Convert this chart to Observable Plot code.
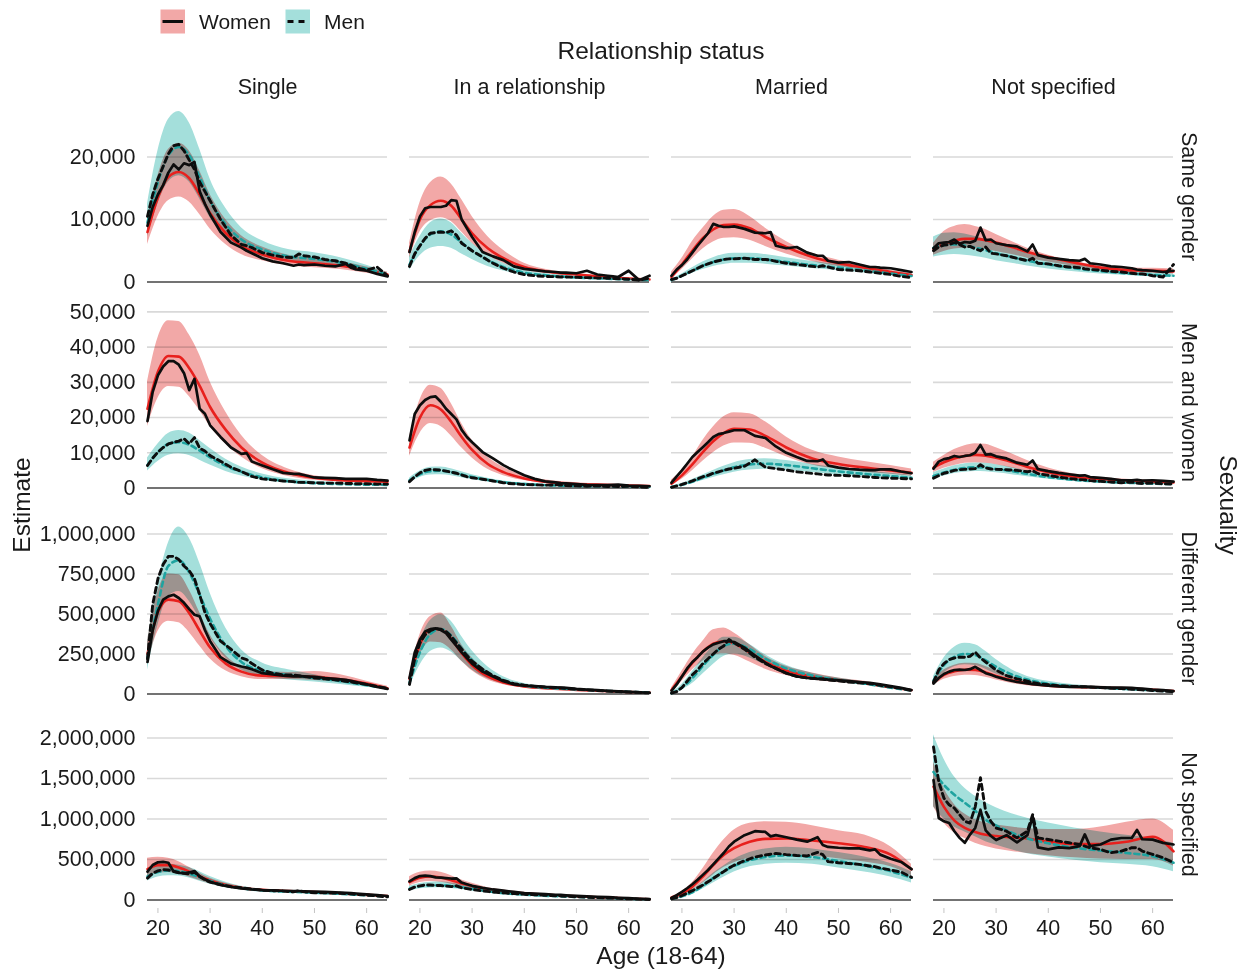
<!DOCTYPE html>
<html><head><meta charset="utf-8">
<script src="https://cdn.jsdelivr.net/npm/d3@7"></script>
<script src="https://cdn.jsdelivr.net/npm/@observablehq/plot@0.6"></script>
<style>
html,body{margin:0;padding:0;background:#fff;}
#chart{position:relative;width:1252px;height:971px;overflow:hidden;font-family:"Liberation Sans",Arial,Helvetica,sans-serif;color:#1a1a1a;background:#fff;}
.row{position:absolute;left:0;}
.row svg{overflow:visible;}
#overlay{position:absolute;left:0;top:0;pointer-events:none;}
</style></head><body><div id="chart"></div>
<script>
// ---------- data (values in thousands) ----------
const statuses = ["Single", "In a relationship", "Married", "Not specified"];
const sexualities = ["Same gender", "Men and women", "Different gender", "Not specified"];
const modelAges = [18,20,22,24,26,28,30,33,36,40,45,50,55,60,64];
const obsAges = [18,19,20,21,22,23,24,25,26,27,28,29,30,32,34,36,37,38,40,42,44,46,47,48,50,52,54,56,57,58,60,62,64];
const ageTicks = [20,30,40,50,60];
const yTicks = [[0,10,20],[0,10,20,30,40,50],[0,250,500,750,1000],[0,500,1000,1500,2000]];

// model interval for women: [sexuality][status][age]
const womenHi = [
 [[10.3,17,21.2,22.2,21,17.8,14,10,7.4,5.6,4.3,3.8,3.3,2.4,1.6],
  [6.2,12.7,15.9,16.8,15.7,13.2,10.5,7.3,5.1,3.0,1.9,1.35,1.0,0.65,0.5],
  [1.6,3.8,6.5,8.6,10.5,11.5,11.6,10.5,8.6,6.5,4.6,3.5,2.7,1.9,1.35],
  [6.2,8.1,8.9,9.2,8.9,8.4,7.6,6.5,5.4,4.3,3.3,2.6,2.3,2.2,2.1]],
 [[30.2,42.6,47.5,47.3,43.5,37.8,30.2,21.6,15,9.2,5.4,3.5,2.6,2.3,2.1],
  [14.5,25,29.2,28.3,24,18.3,13.5,8.8,5.9,3.5,2.1,1.5,1.15,0.85,0.7],
  [2.3,5.0,8.8,13.5,17.3,20.2,21.4,21.1,18.8,14.5,10.7,8.8,7.5,6.4,5.4],
  [7.3,9.2,10.9,12.0,12.6,12.4,11.4,9.7,7.8,5.7,4.0,3.0,2.5,2.1,1.8]],
 [[330,640,750,745,650,510,370,240,170,140,135,140,120,80,48],
  [121,371,485,506,423,308,225,142,90,58,42,31,23,17,12],
  [37,142,246,329,402,412,381,308,235,173,131,100,79,48,27],
  [90,150,180,192,190,172,145,110,85,66,54,48,42,32,24]],
 [[514,527,514,473,403,329,267,206,165,132,115,99,82,62,49],
  [288,342,358,342,300,247,206,152,123,95,70,53,37,21,12],
  [41,105,215,385,576,741,864,946,967,959,918,856,802,658,440],
  [1700,1380,1180,1060,990,950,925,900,880,870,870,900,960,1000,860]]
];
const womenMid = [
 [[8.0,13.5,16.8,17.6,16.6,14.0,11.0,7.8,5.8,4.4,3.4,3.0,2.6,1.9,1.2],
  [4.9,10,12.3,13,12.2,10,7.8,5.4,3.8,2.4,1.6,1.2,0.85,0.55,0.4],
  [0.8,2.8,5.0,7.0,8.4,9.1,9.2,8.6,7.2,5.6,4.0,3.0,2.3,1.6,1.1],
  [5.3,6.1,6.6,6.9,6.9,6.7,6.3,5.6,4.8,4.0,3.1,2.3,1.9,1.8,1.7]],
 [[22.5,33,37.5,37.3,34,29,23,16.5,11.5,7.2,4.3,2.9,2.2,1.9,1.8],
  [11.5,20,23.5,22.3,18.8,14.5,10.8,6.8,4.5,2.7,1.6,1.15,0.9,0.7,0.55],
  [1.2,3.6,6.7,10.2,13.3,15.6,16.8,16.6,14.8,11.5,8.4,6.8,5.8,5.0,4.3],
  [5.8,7.3,8.4,9.1,9.4,9.2,8.6,7.4,6.0,4.5,3.2,2.5,2.1,1.8,1.6]],
 [[250,510,590,580,505,395,290,190,140,115,112,108,92,66,36],
  [95,310,405,405,345,255,180,110,72,47,34,26,19,13,9],
  [25,110,195,265,315,330,315,260,200,145,110,88,68,42,24],
  [72,120,142,152,150,135,113,86,67,52,44,39,34,26,19]],
 [[380,430,430,400,350,290,240,185,150,125,110,97,82,63,50],
  [220,275,290,278,245,205,172,128,103,80,60,45,31,18,10],
  [30,80,165,290,430,555,640,720,755,760,735,700,655,560,380],
  [1400,1150,980,890,840,805,790,775,760,720,690,690,720,780,600]]
];
const womenLo = [
 [[6.0,10.5,13.0,13.6,12.8,10.8,8.5,6.0,4.4,3.4,2.6,2.3,2.0,1.4,0.9],
  [3.8,8.0,9.8,10.3,9.7,8.0,6.2,4.3,3.0,1.9,1.3,0.95,0.68,0.44,0.32],
  [0.5,2.0,3.7,5.3,6.4,7.0,7.1,6.7,5.7,4.5,3.3,2.5,1.9,1.35,0.95],
  [4.3,4.9,5.3,5.4,5.4,5.2,4.9,4.4,3.8,3.2,2.5,1.9,1.55,1.4,1.3]],
 [[17.5,25.5,28.8,28.6,26,22,17.5,12.5,8.8,5.5,3.3,2.2,1.7,1.5,1.4],
  [9.0,15.5,18.3,17.5,14.8,11.4,8.5,5.3,3.5,2.1,1.25,0.9,0.7,0.55,0.42],
  [0.7,2.5,4.9,7.6,10.0,11.9,12.8,12.7,11.3,8.9,6.5,5.3,4.5,3.9,3.4],
  [4.4,5.6,6.4,7.0,7.2,7.0,6.6,5.7,4.6,3.5,2.5,1.95,1.65,1.4,1.25]],
 [[190,390,455,445,385,300,220,145,108,90,90,85,72,50,28],
  [75,245,325,320,275,205,145,88,58,38,27,21,15,10,7],
  [15,80,150,205,240,252,242,200,155,115,88,70,54,34,19],
  [55,92,110,118,116,104,87,66,52,41,35,31,27,21,15]],
 [[290,330,340,320,285,240,200,155,127,105,93,82,70,54,42],
  [170,215,228,218,195,165,140,105,85,67,50,38,26,15,8],
  [20,58,120,210,310,400,460,515,540,550,540,510,470,410,300],
  [1150,950,830,760,700,660,630,600,575,545,520,505,500,500,420]]
];
// model interval for men
const menHi = [
 [[12.5,21,26,27.3,25.5,21.3,16.5,11.8,8.7,6.6,5.2,4.7,3.9,2.7,1.5],
  [4.1,7.3,9.5,10.1,9.5,7.8,6.2,4.3,3.0,1.9,1.25,0.9,0.7,0.5,0.38],
  [0.4,1.3,2.3,3.2,3.9,4.4,4.6,4.6,4.4,3.9,3.3,2.8,2.3,1.7,1.2],
  [7.2,7.8,7.9,7.7,7.3,6.8,6.2,5.4,4.6,3.8,2.9,2.3,1.8,1.5,1.3]],
 [[8.5,12.5,15.5,16.3,15.6,13.5,11.2,8.2,6.0,4.0,2.6,1.9,1.5,1.3,1.2],
  [2.8,4.8,5.9,6.0,5.5,4.6,3.8,2.8,2.0,1.4,0.95,0.75,0.6,0.5,0.42],
  [0.6,1.3,2.4,3.7,5.0,6.2,7.2,8.1,8.3,7.8,6.7,5.7,4.9,4.2,3.6],
  [4.3,5.4,6.3,6.9,7.1,7.0,6.6,5.8,4.9,3.8,2.8,2.2,1.8,1.5,1.3]],
 [[330,694,944,1044,975,819,631,412,277,194,152,121,90,58,38],
  [100,330,460,495,455,360,270,170,108,66,46,34,25,18,13],
  [10,60,140,225,300,355,355,310,245,180,130,100,75,45,25],
  [110,225,292,317,308,267,215,152,110,79,58,48,37,27,21]],
 [[360,420,440,430,400,350,290,220,170,135,113,98,82,62,48],
  [170,205,220,222,210,188,163,127,100,78,58,44,30,18,10],
  [22,60,125,220,330,420,500,585,630,650,630,585,530,450,350],
  [2040,1740,1520,1380,1280,1200,1140,1065,1010,950,890,840,800,760,700]]
];
const menMid = [
 [[9.5,16,20.3,21.6,20.3,16.8,13,9.2,6.8,5.2,4.1,3.7,3.1,2.1,1.2],
  [2.8,5.8,7.6,8.1,7.6,6.3,5.0,3.5,2.4,1.5,1.0,0.72,0.55,0.4,0.3],
  [0.3,1.0,1.8,2.6,3.2,3.6,3.8,3.8,3.6,3.2,2.7,2.3,1.85,1.35,0.95],
  [5.5,5.9,6.0,5.8,5.5,5.1,4.6,4.0,3.4,2.8,2.2,1.75,1.4,1.15,1.0]],
 [[6.5,10.2,12.5,13.0,12.3,10.6,8.7,6.3,4.6,3.0,1.9,1.35,1.1,0.95,0.9],
  [2.2,3.9,4.8,4.9,4.5,3.8,3.1,2.3,1.65,1.1,0.75,0.6,0.48,0.4,0.33],
  [0.3,0.9,1.8,2.9,4.0,5.0,5.9,6.7,6.9,6.5,5.6,4.7,4.0,3.4,2.9],
  [3.4,4.4,5.2,5.7,5.9,5.8,5.4,4.8,4.0,3.1,2.3,1.8,1.5,1.25,1.1]],
 [[230,560,800,835,760,620,470,300,200,145,118,100,80,55,36],
  [70,260,375,405,365,285,210,130,84,52,37,28,20,14,10],
  [5,40,100,175,245,300,315,280,220,160,115,88,65,40,22],
  [85,180,232,250,243,210,170,122,90,64,48,40,31,23,17]],
 [[290,345,365,355,325,280,235,180,145,118,102,90,76,58,45],
  [140,170,182,183,174,157,137,108,85,67,50,38,26,15,8],
  [15,45,95,175,270,350,420,490,530,550,530,480,425,355,275],
  [1580,1420,1300,1200,1100,990,920,830,760,700,645,610,580,540,460]]
];
const menLo = [
 [[7.3,12.5,16,17,16,13.3,10.3,7.3,5.4,4.1,3.2,2.9,2.4,1.6,0.9],
  [1.9,4.2,5.4,5.7,5.4,4.5,3.6,2.5,1.75,1.1,0.75,0.55,0.42,0.3,0.22],
  [0.2,0.75,1.4,2.0,2.5,2.8,3.0,3.0,2.85,2.55,2.15,1.8,1.45,1.05,0.75],
  [4.0,4.3,4.4,4.3,4.1,3.8,3.4,3.0,2.55,2.1,1.65,1.3,1.05,0.85,0.75]],
 [[4.8,7.5,9.3,9.7,9.2,7.9,6.5,4.7,3.4,2.2,1.4,1.0,0.8,0.7,0.65],
  [1.6,3.0,3.7,3.8,3.5,2.9,2.4,1.75,1.25,0.85,0.58,0.46,0.37,0.3,0.25],
  [0.15,0.6,1.3,2.1,3.0,3.8,4.5,5.1,5.3,5.0,4.4,3.7,3.2,2.7,2.3],
  [2.6,3.4,4.1,4.5,4.7,4.6,4.3,3.8,3.2,2.5,1.85,1.45,1.2,1.0,0.9]],
 [[150,430,610,640,580,470,355,225,150,108,88,75,60,42,28],
  [45,180,265,287,262,205,150,95,62,39,28,21,15,11,8],
  [3,25,65,125,185,235,250,225,180,130,95,72,54,33,18],
  [60,130,170,183,178,155,125,92,68,50,38,32,25,18,13]],
 [[235,285,300,295,270,232,195,150,122,100,87,77,65,50,38],
  [112,138,148,150,143,130,113,90,72,56,42,32,22,13,7],
  [10,32,70,135,210,280,345,410,440,455,440,395,345,285,210],
  [1150,1000,900,840,780,720,680,620,570,530,490,460,440,410,350]]
];
// observed estimates
const womenObs = [
 [[9.0,12,14,15.5,17.5,18.8,18,19,18.7,19.2,14.5,12.5,10.8,8,6.3,5.5,5.0,4.6,3.8,3.3,3.0,2.6,2.8,2.7,2.8,2.6,2.5,2.9,2.3,2.0,1.8,1.3,0.9],
  [4.8,8,10.5,11.8,12,12,12,12.2,13.1,13.0,10.0,8.6,7.2,4.8,4.1,3.5,3.0,2.5,2.1,1.9,1.7,1.6,1.5,1.5,1.4,1.8,1.2,1.0,0.9,0.8,1.8,0.3,1.0],
  [1.0,2.0,2.7,3.6,4.7,5.8,6.8,7.8,9.3,9.0,8.8,8.8,8.9,8.5,7.9,7.8,8.0,5.8,5.4,5.6,4.7,4.2,4.2,3.4,3.1,3.2,2.8,2.4,2.4,2.3,2.2,1.9,1.6],
  [5.4,6.2,6.3,6.4,6.8,6.1,6.4,6.3,6.6,8.7,6.7,6.8,6.2,5.9,5.7,4.9,6.0,4.3,3.9,3.7,3.5,3.4,3.7,3.0,2.8,2.5,2.4,2.2,2.0,1.9,1.8,1.6,1.8]],
 [[19,27.3,32,34.5,36,36,35,32.6,27.8,31,22.5,21.1,17.8,14.5,11.5,9.7,9.9,7.5,6.4,5.3,4.3,4.0,4.0,3.7,3.0,2.9,2.8,2.6,2.6,2.6,2.6,2.3,2.1],
  [13.5,21,23.5,25,25.8,26,24.5,22.5,21,19.5,16.5,14.5,13,10.2,8.4,6.5,5.7,5.0,3.6,2.6,1.9,1.6,1.4,1.3,1.1,0.9,0.8,0.8,0.9,1.0,0.7,0.6,0.5],
  [1.5,3.3,5.0,6.9,8.8,10.2,11.6,13.0,14.5,15.3,15.6,16.0,16.4,16.4,14.8,14.2,13.0,11.8,10.0,8.8,7.7,7.6,8.1,6.4,5.8,5.4,5.2,5.1,5.1,5.3,5.3,4.7,4.2],
  [5.5,7.5,8.2,8.5,9.1,8.8,9.1,9.3,10.0,12.2,9.5,9.6,9.0,8.4,7.2,6.6,7.8,5.4,4.8,4.3,3.9,3.5,3.6,3.1,2.9,2.6,2.2,2.2,2.3,2.1,2.2,2.0,1.8]],
 [[200,400,520,590,610,620,600,570,530,495,485,400,330,230,190,172,165,155,130,122,115,110,112,110,108,100,95,88,82,75,60,45,32],
  [100,260,340,390,405,410,400,380,340,300,260,225,190,140,110,80,70,60,52,50,45,42,40,38,32,28,24,20,18,16,13,10,8],
  [20,60,110,160,200,230,265,290,310,320,330,330,325,290,240,195,175,160,130,110,100,95,95,90,85,80,75,70,65,60,50,38,25],
  [65,100,125,140,150,152,150,155,170,150,130,120,108,90,75,67,62,58,52,48,45,44,45,44,42,40,40,38,36,34,28,24,18]],
 [[350,432,465,470,460,350,335,330,340,358,290,255,226,185,160,144,138,132,123,118,114,111,110,108,103,99,93,88,85,80,70,60,49],
  [230,270,295,300,295,280,275,270,265,267,215,195,175,150,130,115,108,100,85,78,72,65,62,58,52,45,40,35,32,28,22,15,10],
  [25,60,100,145,195,250,310,370,440,510,580,660,720,800,850,840,785,800,775,745,720,775,680,655,645,638,638,612,625,560,510,470,380],
  [1481,1012,971,950,849,767,706,808,889,1114,860,790,740,800,710,800,1030,650,625,650,640,665,810,665,685,745,765,765,865,750,745,705,685]]
];
const menObs = [
 [[10.5,14,16.5,18.5,20.5,21.8,22,21,19.5,18.0,16,14.5,13,10,7.5,6.0,5.8,5.5,4.7,4.3,4.0,3.9,4.5,4.2,4.0,3.6,3.4,3.0,2.7,2.3,1.9,2.4,1.0],
  [2.5,4.5,5.8,7.0,7.8,7.9,8.0,7.9,8.2,7.5,6.2,5.6,5.0,4.0,3.0,2.2,1.9,1.6,1.2,1.0,0.9,0.85,0.8,0.8,0.75,0.7,0.65,0.6,0.55,0.5,0.45,0.3,0.6],
  [0.4,0.6,1.0,1.4,1.8,2.2,2.6,2.9,3.2,3.4,3.6,3.7,3.7,3.8,3.6,3.6,3.5,3.3,3.0,2.8,2.6,2.4,2.6,2.4,2.0,1.9,1.8,1.6,1.5,1.4,1.2,0.9,0.7],
  [5.0,5.6,5.9,6.0,6.3,6.0,5.6,5.7,5.3,5.0,5.6,4.6,4.5,4.2,3.8,3.4,3.8,3.0,2.9,2.6,2.4,2.3,2.1,2.0,1.9,1.7,1.6,1.4,1.3,1.3,1.0,0.8,2.8]],
 [[6.4,8.5,10.2,11.5,12.5,13.0,13.3,14.0,12.6,14.3,11.3,10.5,9.2,7.6,5.9,4.7,4.0,3.3,2.6,2.3,2.0,1.8,1.6,1.6,1.5,1.4,1.4,1.3,1.3,1.2,1.2,1.1,1.1],
  [1.8,3.2,4.3,5.0,5.3,5.2,5.1,4.8,4.5,4.2,3.7,3.2,2.9,2.5,2.0,1.5,1.3,1.2,1.0,0.9,0.8,0.9,0.85,0.7,0.6,0.5,0.6,0.4,0.5,0.4,0.5,0.3,0.2],
  [0.2,0.6,1.0,1.5,2.0,2.6,3.2,3.6,4.2,4.6,5.0,5.4,5.6,6.2,8.0,5.9,5.7,5.5,5.1,4.6,4.3,4.0,3.8,3.7,3.6,3.5,3.3,3.1,3.0,2.9,2.8,2.7,2.6],
  [2.8,3.5,4.2,4.5,5.0,5.2,5.3,5.4,5.5,6.6,5.7,5.4,5.3,5.2,5.0,4.6,4.9,4.1,3.6,3.1,2.7,2.4,2.3,2.1,1.9,1.7,1.5,1.7,1.4,1.3,1.4,1.2,1.1]],
 [[220,560,720,810,860,860,840,800,770,720,620,510,440,330,280,225,215,190,150,130,120,118,115,110,100,95,88,80,75,70,60,48,35],
  [60,220,320,370,395,410,405,390,360,320,280,240,205,155,115,85,75,65,55,48,43,40,38,35,30,26,22,18,17,15,12,10,7],
  [5,15,40,80,120,150,190,220,250,280,300,340,320,280,230,190,175,160,130,110,100,95,92,88,82,75,70,65,60,55,45,35,22],
  [75,150,190,215,225,230,230,235,262,225,200,175,150,115,95,80,72,66,58,52,48,46,45,43,40,36,34,30,28,26,22,18,14]],
 [[270,330,360,375,370,355,340,330,320,345,290,250,220,190,165,150,142,135,120,115,110,100,115,100,90,88,85,80,75,70,60,50,38],
  [130,160,175,185,185,180,178,172,165,175,150,140,130,112,98,88,82,78,70,65,58,52,50,46,40,35,30,25,23,20,15,11,7],
  [15,30,55,85,115,150,185,225,265,309,350,395,430,485,530,555,565,575,560,550,543,588,560,473,460,450,440,420,412,395,370,345,280],
  [1889,1460,1257,1175,1134,1053,971,950,1150,1510,1093,971,889,849,767,849,1053,767,747,726,706,685,665,645,624,583,604,645,645,604,563,522,461]]
];

// ---------- style / layout ----------
const FONT = '"Liberation Sans", Arial, Helvetica, sans-serif';
const TEXT = "#1a1a1a";
const PINK_FILL = "#f2a8a7";
const TEAL_FILL = "#a4dfdb";
const RED = "#e8201d";
const TEAL_LINE = "#1fa3a0";
const BLACK = "#0d0d0d";
const GRID = "#d9d9d9";
const ZERO = "#737373";
const panelH = 186, MT = 40, MB = 40;
const panelTops = [103.5, 309.5, 515.5, 721.5];
const yDomains = [[-1.36, 28.4], [-2.41, 50.4], [-53, 1109], [-105, 2191]];
const fmt = d3.format(",");

const chart = document.getElementById("chart");

sexualities.forEach((sex, r) => {
  const model = [], obs = [];
  statuses.forEach((s, c) => {
    modelAges.forEach((a, i) => model.push({
      status: s, age: a,
      wLo: womenLo[r][c][i], wMid: womenMid[r][c][i], wHi: womenHi[r][c][i],
      mLo: menLo[r][c][i], mMid: menMid[r][c][i], mHi: menHi[r][c][i]
    }));
    obsAges.forEach((a, i) => obs.push({status: s, age: a, w: womenObs[r][c][i], m: menObs[r][c][i]}));
  });
  const svg = Plot.plot({
    width: 1252,
    height: panelH + MT + MB,
    marginTop: MT, marginBottom: MB, marginLeft: 147, marginRight: 79,
    style: {background: "transparent", overflow: "visible", fontFamily: FONT, fontSize: "21.5px", color: TEXT},
    fx: {domain: statuses, paddingInner: 22 / 262, paddingOuter: 0, round: false, axis: null, label: null},
    x: {domain: [18, 64], axis: null, label: null},
    y: {domain: yDomains[r], axis: null, label: null},
    marks: [
      Plot.gridY(yTicks[r], {stroke: GRID, strokeOpacity: 1, strokeWidth: 1.6}),
      Plot.ruleY([0], {stroke: ZERO, strokeWidth: 2}),
      Plot.areaY(model, {fx: "status", x: "age", y1: "mLo", y2: "mHi", fill: TEAL_FILL, curve: "monotone-x", mixBlendMode: "multiply"}),
      Plot.areaY(model, {fx: "status", x: "age", y1: "wLo", y2: "wHi", fill: PINK_FILL, curve: "monotone-x", mixBlendMode: "multiply"}),
      Plot.line(model, {fx: "status", x: "age", y: "wMid", stroke: RED, strokeWidth: 2.6, curve: "monotone-x"}),
      Plot.line(model, {fx: "status", x: "age", y: "mMid", stroke: TEAL_LINE, strokeWidth: 2.6, strokeDasharray: "5,4", curve: "monotone-x"}),
      Plot.line(obs, {fx: "status", x: "age", y: "w", stroke: BLACK, strokeWidth: 2.7}),
      Plot.line(obs, {fx: "status", x: "age", y: "m", stroke: BLACK, strokeWidth: 2.9, strokeDasharray: "5.5,4"}),
      Plot.axisY(yTicks[r], {anchor: "left", tickSize: 0, tickPadding: 12, tickFormat: d => fmt(d * 1000), label: null, fill: TEXT}),
      r === 0 ? Plot.axisFx({anchor: "top", tickSize: 0, tickPadding: 11, label: null, fill: TEXT}) : null,
      r === sexualities.length - 1 ? Plot.axisX(ageTicks, {anchor: "bottom", tickSize: 5, tickPadding: 6, stroke: "#c4c4c4", fill: TEXT, label: null}) : null
    ]
  });
  const div = document.createElement("div");
  div.className = "row";
  div.style.top = (panelTops[r] - MT) + "px";
  div.appendChild(svg);
  chart.appendChild(div);
});

// ---------- titles, strip labels on the right, legend ----------
const ov = d3.select(chart).append("svg").attr("id", "overlay")
  .attr("width", 1252).attr("height", 971)
  .style("font-family", FONT).attr("fill", TEXT);

ov.append("text").attr("x", 661).attr("y", 50).attr("text-anchor", "middle")
  .attr("dominant-baseline", "central").style("font-size", "24.5px").text("Relationship status");
ov.append("text").attr("x", 661).attr("y", 955).attr("text-anchor", "middle")
  .attr("dominant-baseline", "central").style("font-size", "24.5px").text("Age (18-64)");
ov.append("text").attr("transform", "translate(21,505) rotate(-90)").attr("text-anchor", "middle")
  .attr("dominant-baseline", "central").style("font-size", "24.5px").text("Estimate");
ov.append("text").attr("transform", "translate(1228,505) rotate(90)").attr("text-anchor", "middle")
  .attr("dominant-baseline", "central").style("font-size", "24.5px").text("Sexuality");
sexualities.forEach((s, r) => {
  ov.append("text").attr("transform", `translate(1189,${panelTops[r] + panelH / 2}) rotate(90)`)
    .attr("text-anchor", "middle").attr("dominant-baseline", "central")
    .style("font-size", "21.5px").text(s);
});

const legendItems = [
  {label: "Women", fill: PINK_FILL, dash: null, x: 160.5},
  {label: "Men", fill: TEAL_FILL, dash: "6,5", x: 285.5}
];
legendItems.forEach(it => {
  const g = ov.append("g").attr("transform", `translate(${it.x},9.5)`);
  g.append("rect").attr("width", 24.5).attr("height", 24).attr("fill", it.fill);
  g.append("line").attr("x1", 2).attr("x2", 22.5).attr("y1", 12).attr("y2", 12)
    .attr("stroke", BLACK).attr("stroke-width", 3).attr("stroke-dasharray", it.dash);
  g.append("text").attr("x", 38.5).attr("y", 12).attr("dominant-baseline", "central")
    .style("font-size", "21px").text(it.label);
});
</script></body></html>
